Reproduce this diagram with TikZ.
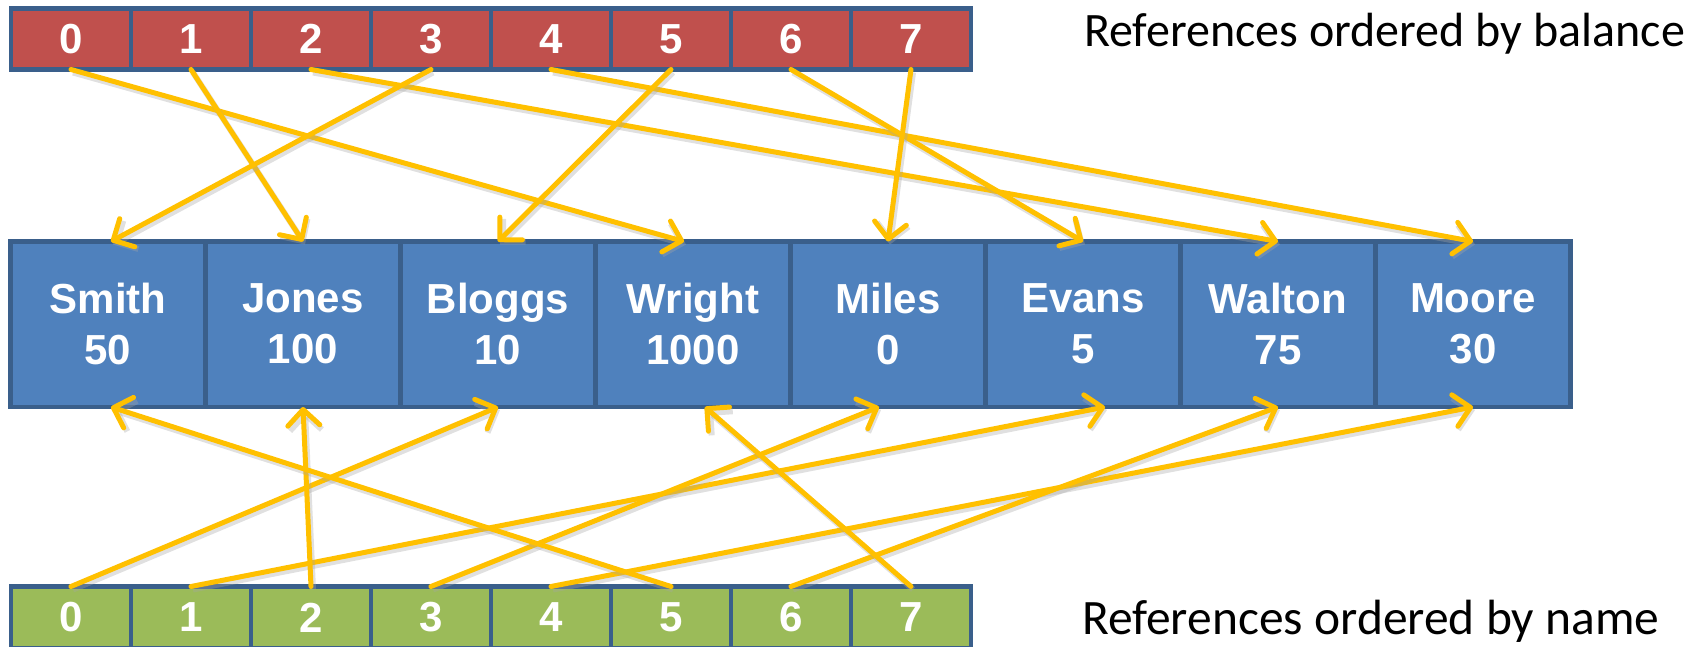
\documentclass[tikz,border=0pt]{standalone}
\usepackage{fontspec}
\setmainfont{Liberation Sans}
\newfontfamily\labelfont{Carlito}
\usetikzlibrary{arrows.meta,calc}
\definecolor{cellred}{HTML}{C0504D}
\definecolor{cellblue}{HTML}{4F81BD}
\definecolor{cellgreen}{HTML}{9BBB59}
\definecolor{cellborder}{HTML}{3A5F8B}
\definecolor{arrowyellow}{HTML}{FFC000}
\tikzset{
  idxcell/.style={draw=cellborder, line width=4.5pt, minimum width=120pt, minimum height=61pt,
    inner sep=0pt, outer sep=0pt, text=white, font=\fontsize{42}{46}\selectfont\bfseries},
  topcell/.style={idxcell, fill=cellred},
  botcell/.style={idxcell, fill=cellgreen, minimum height=62pt},
  reccell/.style={draw=cellborder, line width=4.5pt, fill=cellblue, minimum width=195pt,
    minimum height=165.5pt, inner sep=0pt, outer sep=0pt, text=white, align=center,
    font=\fontsize{42}{51}\selectfont\bfseries},
  refarrow/.style={draw=arrowyellow, line width=5pt, line cap=round,
    -{Straight Barb[length=16pt,width=32pt,line cap=round,line join=round]},
    preaction={draw=black!35, opacity=0.35, line width=6pt, transform canvas={shift={(2pt,-3pt)}}, -{Straight Barb[length=16pt,width=32pt]}}},
  caption/.style={anchor=base west, inner sep=0pt, font=\labelfont\fontsize{48}{56}\selectfont},
  bigcaption/.style={caption, font=\labelfont\fontsize{49.5}{58}\selectfont}
}
\begin{document}
\begin{tikzpicture}[x=1pt,y=-1pt]
\useasboundingbox (0,0) rectangle (1701,647);
% top array (by balance)
\foreach \i in {0,...,7} {
  \node[topcell] (t\i) at (71+120*\i,39) {\i};
}
% bottom array (by name)
\foreach \i in {0,...,7} {
  \node[botcell] (b\i) at (71+120*\i,617.5) {\i};
}
% records
\node[reccell] (m0) at (108,324.25) {Smith\\50};
\node[reccell] (m1) at (303,324.25) {Jones\\100};
\node[reccell] (m2) at (498,324.25) {Bloggs\\10};
\node[reccell] (m3) at (693,324.25) {Wright\\1000};
\node[reccell] (m4) at (888,324.25) {Miles\\0};
\node[reccell] (m5) at (1083,324.25) {Evans\\5};
\node[reccell] (m6) at (1278,324.25) {Walton\\75};
\node[reccell] (m7) at (1473,324.25) {Moore\\30};
% captions
\node[caption] (capb) at (1084,47) {References ordered by balance};
\node[bigcaption] (capn) at (1082,634) {References ordered by name};
% arrows: balance order
\draw[refarrow] (t0.south) -- ($(m3.north)+(-9,0)$);
\draw[refarrow] (t1.south) -- (m1.north);
\draw[refarrow] (t2.south) -- (m6.north);
\draw[refarrow] (t3.south) -- ($(m0.north)+(3,0)$);
\draw[refarrow] (t4.south) -- (m7.north);
\draw[refarrow] (t5.south) -- (m2.north);
\draw[refarrow] (t6.south) -- (m5.north);
\draw[refarrow] (t7.south) -- (m4.north);
% arrows: name order
\draw[refarrow] (b0.north) -- (m2.south);
\draw[refarrow] (b1.north) -- ($(m5.south)+(22,0)$);
\draw[refarrow] (b2.north) -- (m1.south);
\draw[refarrow] (b3.north) -- ($(m4.south)+(-9,0)$);
\draw[refarrow] (b4.north) -- (m7.south);
\draw[refarrow] (b5.north) -- ($(m0.south)+(3,0)$);
\draw[refarrow] (b6.north) -- (m6.south);
\draw[refarrow] (b7.north) -- ($(m3.south)+(12,0)$);
\end{tikzpicture}
\end{document}
